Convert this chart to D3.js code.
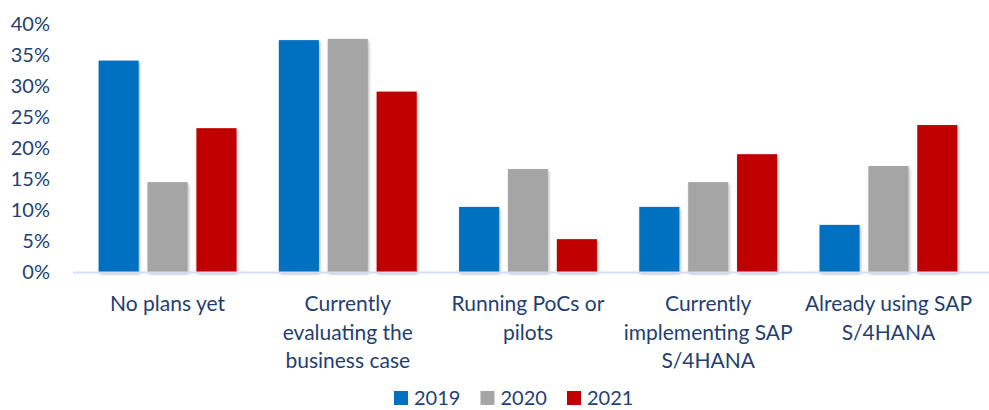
<!doctype html>
<html>
<head>
<meta charset="utf-8">
<script src="https://d3js.org/d3.v7.min.js"></script>
<style>
body { margin: 0; background: #fff; }
text { font-family: Lato, "Open Sans", sans-serif; fill: #233f72; }
</style>
</head>
<body>
<svg id="chart" width="989" height="410"></svg>
<script>
// data
var categories = ["No plans yet", "Currently evaluating the business case", "Running PoCs or pilots",
                  "Currently implementing SAP S/4HANA", "Already using SAP S/4HANA"];
var labelLines = [["No plans yet"], ["Currently", "evaluating the", "business case"], ["Running PoCs or", "pilots"],
                  ["Currently", "implementing SAP", "S/4HANA"], ["Already using SAP", "S/4HANA"]];
var years = ["2019", "2020", "2021"];
var values2019 = [34.1, 37.4, 10.5, 10.5, 7.6];
var values2020 = [14.5, 37.6, 16.6, 14.5, 17.1];
var values2021 = [23.2, 29.1, 5.3, 19.0, 23.7];
var yTicks = [0, 5, 10, 15, 20, 25, 30, 35, 40];
var colors = ["#0070C0", "#A5A5A5", "#C00000"];

var series = [values2019, values2020, values2021];
var svg = d3.select("#chart");

var x0 = d3.scaleBand().domain(categories).range([77, 979]).paddingInner(0.235).paddingOuter(0.12);
var x1 = d3.scaleBand().domain(years).range([0, x0.bandwidth()]).paddingInner(0.18);
var y = d3.scaleLinear().domain([0, 40]).range([272, 24]);

// shadow like the excel bars
var defs = svg.append("defs");
defs.append("filter").attr("id", "shadow")
  .attr("x", "-20%").attr("y", "-5%").attr("width", "140%").attr("height", "115%")
  .append("feDropShadow")
  .attr("dx", 1).attr("dy", 2).attr("stdDeviation", 1.5)
  .attr("flood-color", "#000").attr("flood-opacity", 0.3);

// y labels
svg.append("g").selectAll("text")
  .data(yTicks).enter().append("text")
  .attr("x", 50)
  .attr("y", function(d) { return y(d); })
  .attr("dy", "0.35em")
  .attr("text-anchor", "end")
  .style("font-size", "20px")
  .text(function(d) { return d + "%"; });

// bars
var groups = svg.append("g").selectAll("g")
  .data(categories).enter().append("g")
  .attr("transform", function(d) { return "translate(" + x0(d) + ",0)"; });

groups.selectAll("rect")
  .data(function(d, i) { return years.map(function(yr, j) { return {year: yr, value: series[j][i], k: j}; }); })
  .enter().append("rect")
  .attr("x", function(d) { return x1(d.year); })
  .attr("y", function(d) { return y(d.value); })
  .attr("width", x1.bandwidth())
  .attr("height", function(d) { return y(0) - y(d.value); })
  .attr("filter", "url(#shadow)")
  .style("fill", function(d) { return colors[d.k]; });

// axis line
svg.append("line")
  .attr("x1", 73).attr("x2", 989)
  .attr("y1", y(0) + 0.5).attr("y2", y(0) + 0.5)
  .style("stroke", "#d3def0").style("stroke-width", 2);

// category labels
var catLabels = svg.append("g").selectAll("text")
  .data(categories).enter().append("text")
  .attr("x", function(d) { return x0(d) + x0.bandwidth() / 2; })
  .attr("y", 311)
  .attr("text-anchor", "middle")
  .style("font-size", "21px");

catLabels.selectAll("tspan")
  .data(function(d, i) { return labelLines[i]; })
  .enter().append("tspan")
  .attr("x", function() { return d3.select(this.parentNode).attr("x"); })
  .attr("dy", function(d, i) { return i == 0 ? 0 : 28.5; })
  .text(function(d) { return d; });

// legend
var legend = svg.append("g").selectAll("g")
  .data(years).enter().append("g")
  .attr("transform", function(d, i) { return "translate(" + (394 + i * 86.5) + ",391)"; });

legend.append("rect")
  .attr("width", 14).attr("height", 14)
  .style("fill", function(d, i) { return colors[i]; });

legend.append("text")
  .attr("x", 20).attr("y", 14)
  .style("font-size", "20px")
  .text(function(d) { return d; });
</script>
</body>
</html>
